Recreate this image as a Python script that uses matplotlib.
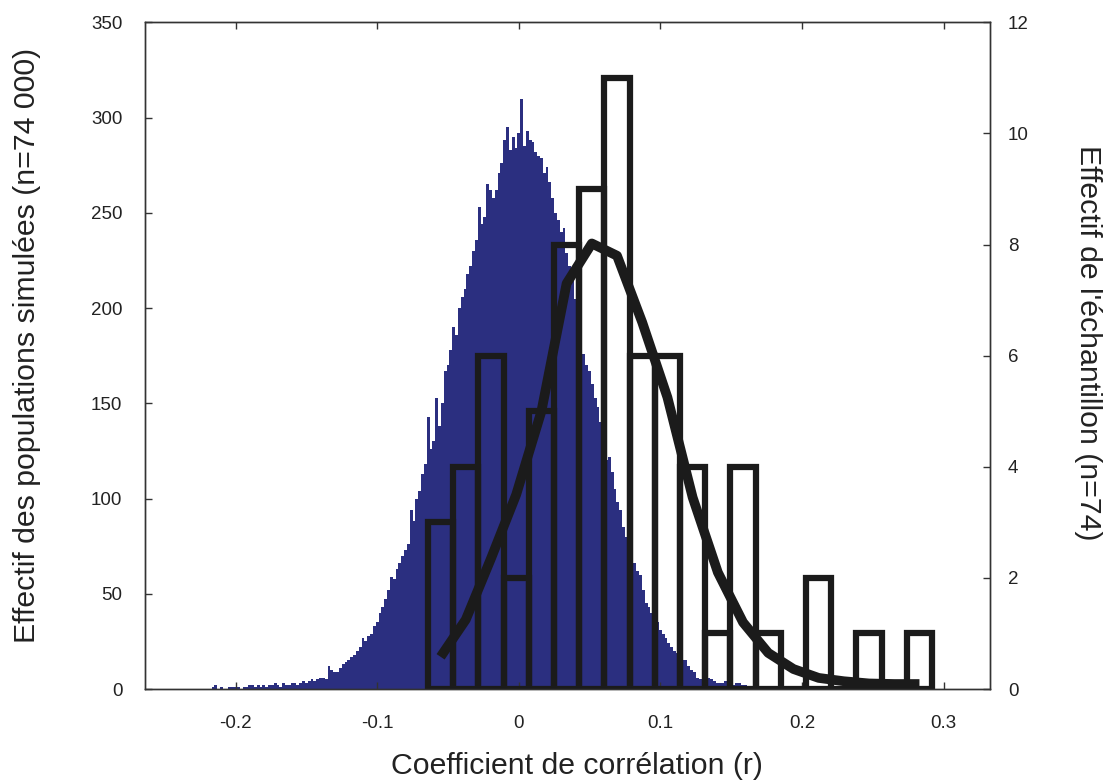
import numpy as np
from matplotlib import pyplot as plt

# simulated populations: counts per r bin (left axis)
sim_start = -0.223
sim_step = 0.002
sim_counts = [
    0, 0, 0, 1, 2, 0, 1, 0, 0, 1,
    1, 1, 1, 0, 1, 1, 2, 2, 1, 2,
    1, 2, 1, 2, 2, 3, 2, 1, 3, 2,
    2, 3, 3, 2, 3, 4, 3, 4, 5, 4,
    5, 6, 6, 5, 12, 10, 9, 9, 11, 13,
    14, 15, 17, 18, 20, 22, 27, 25, 28, 29,
    33, 35, 40, 43, 47, 52, 59, 58, 63, 66,
    70, 73, 76, 94, 88, 100, 104, 113, 118, 143,
    126, 130, 153, 138, 150, 167, 170, 178, 190, 186,
    200, 206, 210, 218, 222, 230, 236, 253, 244, 248,
    265, 262, 258, 262, 271, 276, 288, 295, 283, 290,
    284, 292, 310, 285, 293, 288, 287, 282, 280, 279,
    271, 274, 266, 258, 250, 246, 240, 242, 229, 222,
    216, 205, 195, 180, 176, 170, 167, 160, 153, 148,
    140, 130, 120, 122, 114, 105, 98, 94, 85, 80,
    74, 69, 66, 62, 60, 52, 45, 43, 40, 38,
    35, 31, 29, 27, 24, 22, 20, 19, 17, 15,
    15, 12, 10, 9, 6, 5, 5, 6, 6, 5,
    4, 3, 3, 3, 4, 3, 3, 2, 3, 3,
    2, 2, 1, 1, 1, 1, 0, 1, 0, 1,
    0, 0, 1, 0, 0, 0, 0,
]

# sample of 74: 20 bins (right axis) and fitted curve at bin centres
sample_start = -0.0641
sample_width = 0.0178
sample_counts = [3, 4, 6, 2, 5, 8, 9, 11, 6, 6, 4, 1, 4, 1, 0, 2, 0, 1, 0, 1]
fit_values = [0.58, 1.25, 2.35, 3.5, 5.0, 7.3, 8.02, 7.8, 6.6, 5.25,
              3.45, 2.1, 1.2, 0.65, 0.36, 0.2, 0.14, 0.1, 0.09, 0.09]

xticks = [-0.2, -0.1, 0, 0.1, 0.2, 0.3]
xticklabels = ["-0.2", "-0.1", "0", "0.1", "0.2", "0.3"]
left_ticks = [0, 50, 100, 150, 200, 250, 300, 350]
right_ticks = [0, 2, 4, 6, 8, 10, 12]

plt.rcParams['font.family'] = ['Liberation Sans', 'DejaVu Sans']
txt = '#222222'
blue = '#2b2f80'
ink = '#1b1b1b'

fig = plt.figure(figsize=(11.05, 7.82), dpi=100)
ax1 = fig.add_axes([0.1308, 0.1189, 0.7651, 0.8525])

sim_edges = sim_start + sim_step * np.arange(len(sim_counts) + 1)
ax1.stairs(sim_counts, sim_edges, fill=True, color=blue, linewidth=0)

ax1.set_xlim(-0.2643, 0.3328)
ax1.set_ylim(0, 350)
ax1.set_xticks(xticks)
ax1.set_xticklabels(xticklabels)
ax1.set_yticks(left_ticks)
ax1.tick_params(direction='in', length=5, width=1, colors='#333333',
                labelcolor=txt, labelsize=13.5, top=True, right=False)
ax1.tick_params(axis='x', pad=19)
ax1.tick_params(axis='y', pad=16)
for s in ax1.spines.values():
    s.set_color('#333333')
    s.set_linewidth(1)

ax2 = ax1.twinx()
centers = sample_start + sample_width * (np.arange(len(sample_counts)) + 0.5)
ax2.bar(centers, sample_counts, width=sample_width, fill=False,
        edgecolor=ink, linewidth=4.5, joinstyle='miter')
ax2.plot(centers, fit_values, color=ink, linewidth=7, solid_joinstyle='round',
         solid_capstyle='butt')
ax2.set_ylim(0, 12)
ax2.set_yticks(right_ticks)
ax2.tick_params(direction='in', length=5, width=1, colors='#333333',
                labelcolor=txt, labelsize=13.5, pad=13)
for s in ax2.spines.values():
    s.set_color('#333333')
    s.set_linewidth(1)

fig.text(577 / 1105, 1 - 766 / 782, "Coefficient de corrélation (r)",
         ha='center', va='center', fontsize=21.8, color=txt)
fig.text(27 / 1105, 1 - 345 / 782, "Effectif des populations simulées (n=74 000)",
         ha='center', va='center', rotation=90, fontsize=21.8, color=txt)
fig.text(1088 / 1105, 1 - 343 / 782, "Effectif de l'échantillon (n=74)",
         ha='center', va='center', rotation=270, fontsize=21.8, color=txt)

fig.savefig("out.png", dpi=100)
